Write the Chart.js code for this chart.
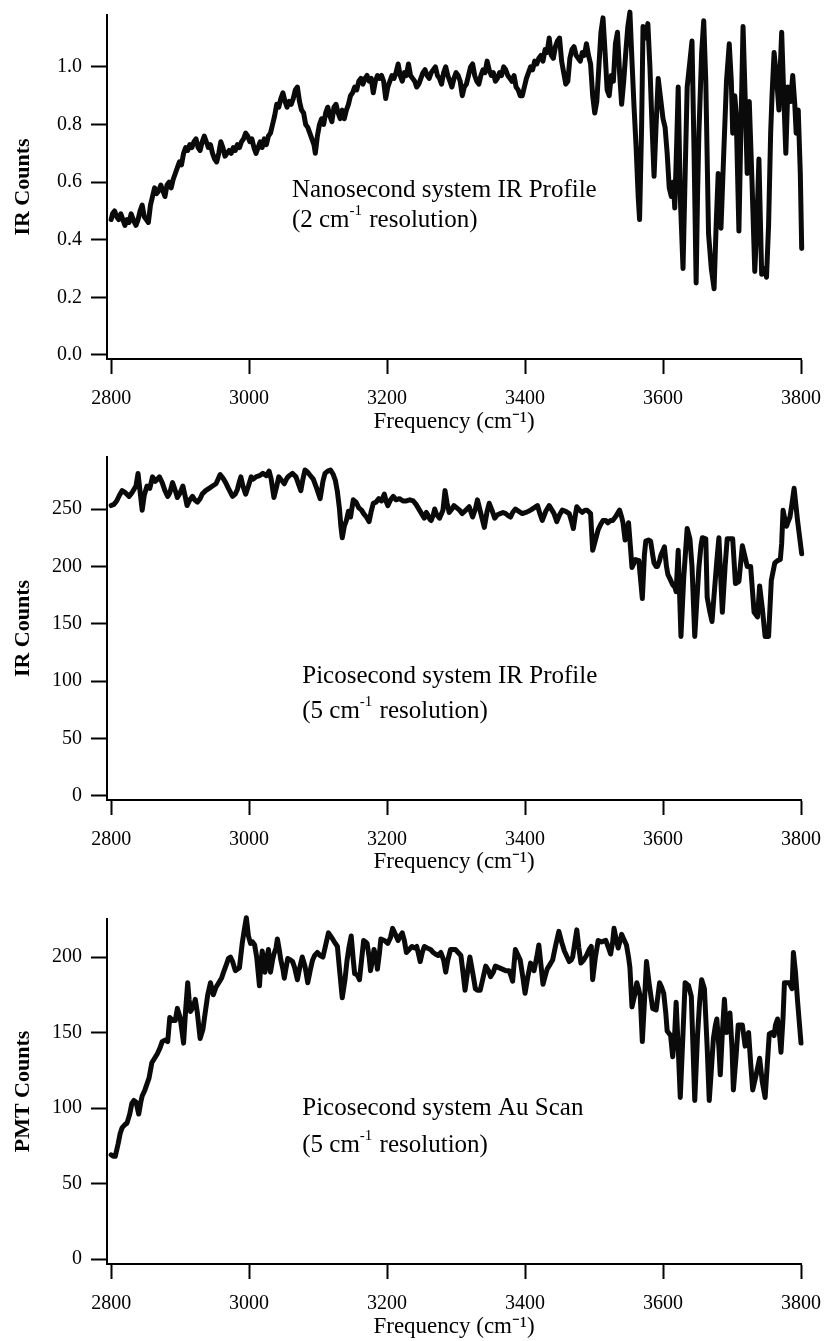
<!DOCTYPE html>
<html><head><meta charset="utf-8">
<script src="https://cdn.jsdelivr.net/npm/chart.js@4/dist/chart.umd.min.js"></script>
<style>
html,body{margin:0;padding:0;background:#fff;}
#wrap{position:relative;width:825px;height:1341px;background:#fff;}
canvas{position:absolute;left:0;}
</style></head><body>
<div id="wrap">
<canvas id="c1" width="825" height="440" style="top:0px"></canvas>
<canvas id="c2" width="825" height="440" style="top:440px"></canvas>
<canvas id="c3" width="825" height="461" style="top:880px"></canvas>
</div>
<script>
// ---------- data ----------
const xTicks = [2800, 3000, 3200, 3400, 3600, 3800];
const xTitle = 'Frequency (cm⁻¹)';

// Panel 1: Nanosecond system IR Profile
const p1Freq = [2800,2802,2805,2808,2811,2814,2817,2820,2823,2826,2829,2832,2836,2839,2842,2845,2848,2851,2854,2857,2860,2863,2866,2869,2872,2875,2878,2881,2884,2887,2890,2893,2896,2899,2902,2905,2908,2911,2914,2917,2920,2923,2926,2929,2932,2935,2938,2941,2944,2947,2950,2953,2956,2959,2962,2965,2968,2971,2974,2977,2980,2983,2986,2989,2992,2995,2998,3001,3004,3007,3010,3013,3016,3019,3022,3025,3028,3031,3034,3037,3040,3043,3046,3049,3052,3055,3058,3061,3064,3067,3070,3073,3076,3079,3082,3085,3088,3091,3094,3096,3099,3102,3105,3108,3111,3114,3117,3120,3123,3126,3129,3132,3135,3138,3141,3144,3147,3150,3153,3156,3159,3162,3165,3168,3171,3174,3177,3180,3183,3186,3189,3192,3195,3198,3201,3204,3207,3210,3213,3216,3219,3222,3225,3228,3231,3234,3237,3240,3243,3246,3249,3252,3255,3258,3261,3264,3267,3270,3273,3276,3279,3282,3285,3288,3291,3294,3297,3300,3303,3306,3309,3312,3315,3318,3321,3324,3327,3330,3333,3336,3339,3342,3345,3348,3351,3354,3357,3360,3363,3366,3369,3372,3375,3378,3381,3384,3387,3390,3393,3396,3399,3402,3405,3408,3411,3414,3417,3420,3423,3426,3429,3432,3435,3438,3441,3444,3447,3450,3453,3456,3459,3462,3465,3468,3471,3474,3477,3480,3483,3486,3489,3492,3495,3498,3501,3504,3507,3510,3513,3516,3519,3522,3525,3528,3531,3534,3537,3540,3543,3546,3549,3552,3555,3558,3561,3564,3566,3569,3571,3575,3578,3581,3584,3587,3590,3593,3596,3600,3603,3606,3609,3612,3615,3617,3620,3622,3625,3629,3632,3635,3639,3642,3645,3648,3650,3652,3656,3659,3662,3666,3670,3674,3677,3680,3684,3688,3692,3696,3699,3701,3704,3706,3710,3713,3716,3719,3722,3725,3729,3733,3736,3739,3743,3747,3750,3753,3756,3758,3761,3765,3768,3770,3772,3775,3778,3781,3785,3788,3791,3793,3796,3799,3801];
const p1Vals = [0.47,0.49,0.50,0.48,0.47,0.49,0.47,0.45,0.47,0.46,0.49,0.47,0.45,0.47,0.50,0.52,0.48,0.47,0.46,0.52,0.55,0.58,0.56,0.57,0.59,0.57,0.55,0.59,0.60,0.58,0.61,0.63,0.65,0.67,0.66,0.70,0.72,0.71,0.73,0.72,0.74,0.75,0.72,0.71,0.74,0.76,0.74,0.72,0.73,0.70,0.68,0.67,0.70,0.74,0.72,0.69,0.70,0.71,0.70,0.72,0.71,0.73,0.72,0.74,0.75,0.77,0.76,0.74,0.75,0.72,0.70,0.72,0.74,0.72,0.75,0.73,0.76,0.77,0.80,0.83,0.87,0.86,0.89,0.91,0.88,0.86,0.88,0.87,0.89,0.92,0.93,0.88,0.85,0.84,0.80,0.79,0.77,0.75,0.73,0.70,0.76,0.80,0.82,0.80,0.84,0.86,0.83,0.81,0.86,0.87,0.84,0.82,0.85,0.82,0.85,0.87,0.90,0.91,0.93,0.92,0.95,0.96,0.94,0.96,0.97,0.95,0.96,0.91,0.95,0.97,0.96,0.97,0.95,0.89,0.93,0.95,0.97,0.96,0.98,1.01,0.97,0.95,0.98,0.97,1.01,0.97,0.96,0.95,0.93,0.94,0.96,0.98,0.99,0.97,0.96,0.98,0.99,1.00,0.97,0.96,0.94,0.98,1.00,0.97,0.95,0.93,0.96,0.98,0.97,0.95,0.90,0.93,0.94,0.97,1.00,1.01,0.97,0.95,0.94,0.97,0.99,0.98,1.02,0.99,0.97,0.98,0.95,0.96,0.98,0.97,1.00,0.99,0.97,0.96,0.95,0.97,0.93,0.92,0.90,0.90,0.93,0.96,0.98,1.00,0.99,1.02,1.01,1.03,1.04,1.02,1.06,1.05,1.10,1.04,1.03,1.07,1.09,1.10,1.02,0.98,0.94,0.95,1.03,1.06,1.07,1.04,1.03,1.02,1.05,1.04,1.08,1.04,1.01,0.90,0.84,0.88,1.00,1.12,1.17,1.05,0.92,0.90,0.97,0.95,1.08,1.12,0.98,0.87,0.95,1.05,1.14,1.19,1.02,0.86,0.72,0.55,0.47,0.80,1.14,1.10,1.15,1.00,0.80,0.62,0.80,0.96,0.90,0.82,0.79,0.70,0.58,0.55,0.60,0.51,0.75,0.93,0.55,0.30,0.62,0.93,1.02,1.09,0.70,0.25,0.55,0.77,1.05,1.16,0.95,0.42,0.30,0.23,0.45,0.63,0.44,0.70,0.95,1.08,0.95,0.77,0.90,0.84,0.43,0.80,1.14,0.90,0.63,0.88,0.60,0.29,0.45,0.68,0.28,0.30,0.27,0.45,0.77,0.90,1.05,0.95,0.85,1.00,1.12,0.90,0.70,0.93,0.88,0.97,0.87,0.77,0.85,0.63,0.37];

// Panel 2: Picosecond system IR Profile
const p2Freq = [2800,2804,2808,2812,2816,2821,2826,2830,2833,2836,2839,2842,2845,2848,2852,2856,2860,2864,2867,2870,2874,2878,2882,2885,2889,2893,2896,2900,2904,2907,2910,2914,2918,2921,2925,2929,2932,2937,2942,2947,2952,2955,2958,2962,2966,2970,2976,2980,2983,2986,2988,2991,2995,2999,3003,3006,3010,3015,3020,3025,3029,3032,3036,3040,3043,3047,3051,3055,3058,3063,3068,3072,3075,3078,3081,3085,3089,3093,3098,3103,3107,3110,3114,3118,3122,3125,3128,3131,3133,3135,3138,3141,3144,3147,3151,3155,3159,3163,3166,3170,3174,3177,3180,3184,3188,3192,3196,3199,3201,3205,3209,3213,3218,3223,3228,3233,3238,3242,3247,3250,3254,3257,3259,3262,3264,3267,3269,3272,3276,3279,3281,3284,3287,3290,3294,3297,3301,3305,3309,3314,3319,3324,3328,3331,3336,3341,3345,3348,3352,3356,3360,3364,3368,3372,3376,3379,3382,3386,3391,3396,3401,3405,3408,3413,3418,3422,3425,3430,3435,3439,3442,3446,3450,3454,3459,3464,3467,3470,3473,3475,3479,3483,3487,3490,3495,3498,3502,3506,3510,3513,3517,3520,3524,3527,3532,3537,3540,3542,3545,3548,3550,3553,3555,3558,3560,3565,3570,3573,3575,3579,3582,3585,3587,3590,3592,3595,3597,3600,3602,3605,3607,3611,3614,3617,3619,3622,3626,3630,3635,3639,3642,3646,3649,3652,3655,3657,3662,3664,3668,3671,3674,3678,3681,3686,3690,3693,3697,3701,3705,3710,3715,3719,3722,3727,3732,3737,3740,3744,3748,3753,3757,3762,3766,3770,3772,3774,3777,3779,3782,3784,3787,3790,3795,3801];
const p2Vals = [253,254,257,262,266,264,261,264,267,270,281,265,249,262,270,268,278,274,276,278,273,266,261,264,273,266,260,264,270,262,253,258,261,258,256,259,263,266,268,270,272,276,280,277,273,268,261,263,267,274,278,270,263,270,278,276,278,279,281,279,283,276,260,270,278,275,272,277,279,281,278,271,266,276,284,282,279,276,268,259,274,281,283,284,280,275,265,250,235,225,235,240,248,243,258,256,251,249,246,243,239,248,255,256,259,257,263,256,253,258,261,258,259,257,257,258,257,254,249,246,242,247,245,241,240,245,250,245,242,246,249,266,255,247,250,253,251,249,246,249,252,243,250,258,246,234,248,255,249,242,245,246,247,246,244,243,247,250,248,246,247,248,249,251,253,245,240,248,253,249,246,239,245,249,248,246,240,233,245,252,249,247,249,249,246,214,223,232,237,240,240,238,240,240,244,249,243,238,223,232,238,215,199,203,206,205,172,210,222,223,222,210,203,200,200,205,210,214,217,200,193,188,184,182,178,214,139,190,233,224,200,139,170,199,218,225,224,173,160,152,175,205,225,160,200,224,224,224,185,187,218,208,200,200,160,156,183,163,139,139,188,203,205,206,220,249,240,235,240,243,255,268,240,211];

// Panel 3: Picosecond system Au Scan
const p3Freq = [2800,2803,2806,2810,2813,2816,2820,2823,2827,2830,2833,2836,2838,2840,2843,2845,2849,2852,2855,2859,2863,2867,2871,2874,2878,2882,2885,2889,2893,2896,2900,2903,2905,2908,2911,2913,2915,2919,2922,2925,2929,2933,2936,2940,2944,2948,2952,2956,2960,2963,2967,2970,2973,2976,2980,2983,2986,2990,2993,2996,2999,3002,3005,3008,3011,3015,3017,3019,3021,3023,3026,3028,3030,3031,3034,3036,3039,3041,3044,3046,3049,3051,3054,3056,3060,3063,3066,3070,3073,3077,3081,3085,3089,3092,3095,3099,3103,3107,3111,3115,3118,3121,3125,3128,3131,3135,3139,3142,3145,3148,3151,3153,3157,3160,3163,3166,3169,3171,3174,3176,3179,3181,3184,3186,3189,3191,3196,3201,3205,3208,3212,3216,3219,3222,3225,3228,3232,3236,3240,3243,3246,3248,3251,3254,3258,3263,3267,3270,3274,3278,3282,3285,3288,3292,3296,3299,3303,3307,3310,3313,3316,3320,3324,3328,3331,3335,3339,3343,3347,3350,3354,3357,3362,3367,3372,3377,3380,3382,3384,3386,3390,3393,3397,3400,3404,3408,3411,3413,3417,3420,3423,3426,3429,3432,3436,3440,3444,3449,3453,3457,3461,3464,3467,3469,3472,3475,3478,3481,3485,3489,3493,3496,3498,3502,3506,3511,3517,3521,3524,3527,3529,3532,3535,3538,3540,3543,3547,3550,3552,3555,3559,3562,3565,3567,3570,3573,3576,3580,3585,3590,3595,3598,3601,3604,3606,3611,3614,3617,3619,3622,3625,3629,3632,3637,3641,3646,3650,3653,3656,3660,3664,3667,3670,3673,3676,3678,3681,3683,3686,3689,3692,3695,3697,3700,3702,3706,3709,3712,3715,3719,3722,3724,3727,3730,3735,3740,3744,3748,3751,3754,3758,3761,3763,3766,3769,3771,3774,3776,3780,3783,3787,3789,3792,3795,3800];
const p3Vals = [69,68,68,76,83,87,89,90,96,103,105,104,100,96,104,108,112,116,120,130,133,136,140,144,145,144,160,158,158,166,160,150,143,165,183,172,164,167,172,163,146,152,162,175,183,175,180,183,186,190,195,199,200,197,191,192,193,209,218,226,214,209,210,208,200,181,195,204,198,190,200,205,195,190,198,202,206,212,204,198,192,186,194,199,198,197,193,185,192,200,194,183,192,198,201,203,201,200,208,216,214,212,209,207,192,173,185,198,207,214,198,189,188,185,198,211,210,209,200,191,198,205,200,192,203,212,211,209,213,219,215,211,214,216,211,203,205,207,206,207,201,197,203,207,206,205,203,202,201,203,198,190,198,205,205,205,203,201,190,178,188,200,190,179,178,178,186,194,191,187,190,194,193,192,191,191,187,184,195,205,201,198,186,176,187,196,193,191,200,208,195,182,187,192,195,198,207,217,210,204,200,197,198,200,209,218,206,196,198,201,205,207,185,200,211,210,211,206,202,210,219,212,206,211,215,212,208,200,193,167,175,183,178,174,144,170,197,182,166,165,183,180,176,163,151,148,134,150,170,140,107,150,183,181,174,105,148,170,185,179,140,105,125,146,155,159,140,122,150,172,150,158,163,140,112,135,155,155,155,141,148,150,130,112,122,133,117,107,128,149,150,148,155,159,148,137,160,183,183,183,179,203,190,171,143];

// y tick values
const p1YTicks = [0, 0.2, 0.4, 0.6, 0.8, 1.0];
const p2YTicks = [0, 50, 100, 150, 200, 250];
const p3YTicks = [0, 50, 100, 150, 200];

// annotation texts
const p1Note = [[{t:'Nanosecond system IR Profile'}],[{t:'(2 cm'},{t:'-1',sup:true},{t:' resolution)'}]];
const p2Note = [[{t:'Picosecond system IR Profile'}],[{t:'(5 cm'},{t:'-1',sup:true},{t:' resolution)'}]];
const p3Note = [[{t:'Picosecond system Au Scan'}],[{t:'(5 cm'},{t:'-1',sup:true},{t:' resolution)'}]];

// ---------- drawing ----------
const FONT = "'Liberation Serif','Times New Roman',Times,serif";

const notePlugin = {
  id: 'note',
  afterDatasetsDraw(chart, args, o) {
    if (!o || !o.lines) return;
    const ctx = chart.ctx;
    const x0 = chart.scales.x.getPixelForValue(o.x);
    const y0 = chart.scales.y.getPixelForValue(o.y);
    ctx.save();
    ctx.fillStyle = '#000';
    ctx.textAlign = 'left';
    ctx.textBaseline = 'alphabetic';
    o.lines.forEach((parts, i) => {
      let cx = x0;
      const by = y0 + i * o.gap;
      parts.forEach(p => {
        ctx.font = (p.sup ? o.supSize : o.size) + 'px ' + FONT;
        ctx.fillText(p.t, cx, p.sup ? by - o.supRaise : by);
        cx += ctx.measureText(p.t).width + (p.sup ? 1 : 0);
      });
    });
    ctx.restore();
  }
};

function build(id, freq, vals, c) {
  const pts = freq.map((f, i) => ({x: f, y: vals[i]}));
  return new Chart(document.getElementById(id), {
    type: 'line',
    data: {datasets: [{data: pts, borderColor: '#0a0a0a', borderWidth: c.lw, pointRadius: 0,
      tension: 0, fill: false, clip: false, borderJoinStyle: 'round', borderCapStyle: 'round'}]},
    options: {
      responsive: false, animation: false, events: [],
      layout: {padding: {top: c.top, right: 24, left: 0, bottom: 0}},
      plugins: {legend: {display: false}, tooltip: {enabled: false}, note: c.note},
      scales: {
        x: {
          type: 'linear', min: 2794, max: 3800,
          afterBuildTicks: ax => { ax.ticks = xTicks.map(v => ({value: v})); },
          afterFit: ax => { ax.height = c.xh; ax.paddingLeft = 0; ax.paddingRight = 0; },
          grid: {drawOnChartArea: false, drawTicks: true, tickLength: 15, tickWidth: 2, tickColor: '#000'},
          border: {display: true, color: '#000', width: 2},
          ticks: {color: '#000', font: {family: FONT, size: 20}, padding: 13, maxRotation: 0, autoSkip: false,
            callback: v => String(v)},
          title: {display: true, text: xTitle, color: '#000', font: {family: FONT, size: 23}, padding: {top: 0, bottom: c.tpb}}
        },
        y: {
          type: 'linear', min: c.ymin, max: c.ymax,
          afterBuildTicks: ax => { ax.ticks = c.yTicks.map(v => ({value: v})); },
          afterFit: ax => { ax.width = 107; ax.paddingTop = 0; ax.paddingBottom = 0; },
          grid: {drawOnChartArea: false, drawTicks: true, tickLength: 16, tickWidth: 2, tickColor: '#000'},
          border: {display: true, color: '#000', width: 2},
          ticks: {color: '#000', font: {family: FONT, size: 20}, padding: 9, autoSkip: false,
            callback: v => c.fmt(v)},
          title: {display: true, text: c.yTitle, color: '#000', font: {family: FONT, size: 22, weight: 'bold'}, padding: {top: 10, bottom: 0}}
        }
      }
    },
    plugins: [notePlugin]
  });
}

build('c1', p1Freq, p1Vals, {lw: 5, top: 15, xh: 81, tpb: 4, ymin: -0.0139, ymax: 1.18,
  yTicks: p1YTicks, fmt: v => v.toFixed(1), yTitle: 'IR Counts',
  note: {lines: p1Note, x: 3062, y: 0.547, gap: 30, size: 25, supSize: 15, supRaise: 12}});
build('c2', p2Freq, p2Vals, {lw: 5, top: 17, xh: 80, tpb: 4, ymin: -3.5, ymax: 295.3,
  yTicks: p2YTicks, fmt: v => String(v), yTitle: 'IR Counts',
  note: {lines: p2Note, x: 3077, y: 98.4, gap: 35, size: 25, supSize: 15, supRaise: 12}});
build('c3', p3Freq, p3Vals, {lw: 5, top: 39, xh: 77, tpb: 0, ymin: -3.3, ymax: 225.2,
  yTicks: p3YTicks, fmt: v => String(v), yTitle: 'PMT Counts',
  note: {lines: p3Note, x: 3077, y: 95.4, gap: 37, size: 25, supSize: 15, supRaise: 12}});
</script>
</body></html>
